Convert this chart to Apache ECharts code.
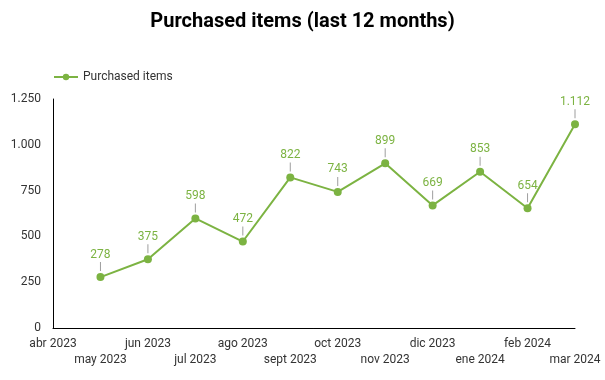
<!DOCTYPE html>
<html>
<head>
<meta charset="utf-8">
<script src="https://cdn.jsdelivr.net/npm/echarts@6/dist/echarts.min.js"></script>
<style>html,body{margin:0;padding:0;background:#fff}#c{width:605px;height:380px}</style>
</head>
<body>
<div id="c"></div>
<script>
var categories = ['abr 2023','may 2023','jun 2023','jul 2023','ago 2023','sept 2023','oct 2023','nov 2023','dic 2023','ene 2024','feb 2024','mar 2024'];
var purchased = [null, 278, 375, 598, 472, 822, 743, 899, 669, 853, 654, 1112];
var yTicks = [0, 250, 500, 750, 1000, 1250];

function fmt(v){ return String(v).replace(/\B(?=(\d{3})+(?!\d))/g, '.'); }

var chart = echarts.init(document.getElementById('c'));
chart.setOption({
  animation: false,
  textStyle: { fontFamily: 'Roboto' },
  title: {
    text: 'Purchased items (last 12 months)',
    left: 'center', top: 7,
    textStyle: { fontFamily: 'Roboto', fontSize: 20, fontWeight: 'bold', color: '#000' }
  },
  legend: {
    left: 48, top: 66,
    itemWidth: 24, itemHeight: 8,
    textStyle: { fontFamily: 'Roboto', fontSize: 12, color: '#333' },
    data: ['Purchased items']
  },
  grid: { left: 53, right: 30, top: 99, bottom: 52 },
  xAxis: {
    type: 'category',
    data: categories,
    boundaryGap: false,
    axisLine: { lineStyle: { color: '#000', width: 1 } },
    axisTick: { show: false },
    axisLabel: {
      interval: 0, hideOverlap: false, color: '#333', fontSize: 12, margin: 8, lineHeight: 16,
      formatter: function (v, i) { return i % 2 === 1 ? '\n' + v : v; }
    },
    splitLine: { show: false }
  },
  yAxis: {
    type: 'value',
    min: yTicks[0], max: yTicks[yTicks.length - 1], interval: 250,
    axisLine: { show: true, lineStyle: { color: '#000', width: 1 } },
    axisTick: { show: false },
    splitLine: { show: false },
    axisLabel: { color: '#333', fontSize: 12, margin: 12, formatter: function (v) { return fmt(v); } }
  },
  series: [{
    name: 'Purchased items',
    type: 'line',
    data: purchased,
    color: '#7cb342',
    symbol: 'circle',
    symbolSize: 8,
    lineStyle: { width: 2, color: '#7cb342' },
    itemStyle: { color: '#7cb342' },
    label: {
      show: true, position: 'top', distance: 2,
      formatter: function (p) { return '{v|' + fmt(p.value) + '}\n{l|}'; },
      rich: {
        v: { color: '#7cb342', fontSize: 12, fontFamily: 'Roboto', align: 'center', lineHeight: 15 },
        l: { width: 1, height: 9, backgroundColor: '#9e9e9e', align: 'center' }
      }
    }
  }]
});
</script>
</body>
</html>
